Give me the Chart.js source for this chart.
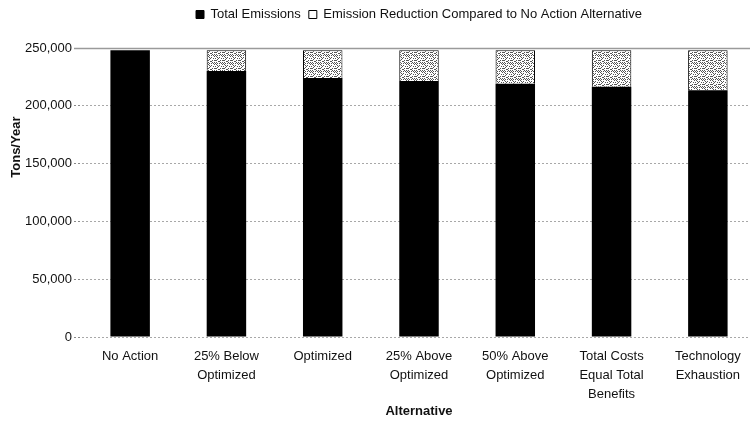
<!DOCTYPE html>
<html><head><meta charset="utf-8">
<script src="https://cdn.jsdelivr.net/npm/chart.js@4"></script>
<style>
html,body{margin:0;padding:0;background:#fff;overflow:hidden}
#wrap{width:750px;height:427px;overflow:hidden;position:relative}
canvas{display:block}
</style></head>
<body><div id="wrap"><canvas id="c" width="756" height="427"></canvas></div>
<script>
const categories = [['No Action'],['25% Below','Optimized'],['Optimized'],['25% Above','Optimized'],['50% Above','Optimized'],['Total Costs','Equal Total','Benefits'],['Technology','Exhaustion']];
const totalEmissions = [248000,230000,224000,221500,219000,216500,213500];
const emissionReduction = [0,18000,24000,26500,29000,31500,34500];
const seriesNames = ['Total Emissions','Emission Reduction Compared to No Action Alternative'];
const yMin = 0, yMax = 250000, yStep = 50000;
const xTitle = 'Alternative';
const yTitle = 'Tons/Year';

const FONT = '"Liberation Sans", Arial, sans-serif';

// stipple pattern for the reduction segment
function makePattern(){
  const p = document.createElement('canvas');
  p.width = 8; p.height = 8;
  const g = p.getContext('2d');
  g.fillStyle = '#fff'; g.fillRect(0,0,8,8);
  g.fillStyle = '#555';
  const dots = [[0,0],[3,1],[6,0],[1,3],[5,2],[7,4],[2,5],[4,4],[0,6],[6,6],[3,7],[5,7],[1,1],[7,2],[4,6],[2,2],[6,4],[0,4],[3,5],[7,7],[1,7]];
  dots.forEach(d=>g.fillRect(d[0],d[1],1,1));
  return g.createPattern(p,'repeat');
}
const ctx = document.getElementById('c').getContext('2d');
const stipple = makePattern();

const helpers = {
  id:'helpers',
  afterLayout(chart){
    const l = chart.legend, a = chart.chartArea;
    if (l){ l.left = a.left; l.right = a.right; l.top -= 17; l.bottom -= 17; }
  },
  afterDatasetsDraw(chart){
    const y = chart.scales.y, a = chart.chartArea, c = chart.ctx;
    c.save();
    c.strokeStyle = '#9a9a9a'; c.lineWidth = 1.5; c.setLineDash([]);
    const py = Math.round(y.getPixelForValue(yMax)) + 0.5;
    c.beginPath(); c.moveTo(a.left - 8, py); c.lineTo(a.right, py); c.stroke();
    c.restore();
  },
  afterDraw(chart){
    const a = chart.chartArea, c = chart.ctx;
    c.save();
    c.font = 'bold 13px ' + FONT;
    c.fillStyle = '#111';
    c.textAlign = 'center'; c.textBaseline = 'middle';
    c.translate(a.left - 66, a.top + (a.bottom - a.top) * 0.343);
    c.rotate(-Math.PI/2);
    c.fillText(yTitle, 0, 0);
    c.restore();
  }
};

new Chart(ctx, {
  type:'bar',
  data:{
    labels: categories,
    datasets:[
      {label:seriesNames[0], data:totalEmissions, backgroundColor:'#000', borderColor:'#000', borderWidth:0, barPercentage:0.41, categoryPercentage:1},
      {label:seriesNames[1], data:emissionReduction, backgroundColor:stipple, borderColor:'#000', borderWidth:1, borderSkipped:'bottom', barPercentage:0.41, categoryPercentage:1}
    ]
  },
  options:{
    responsive:false, animation:false, devicePixelRatio:1,
    layout:{padding:{top:17,left:0,right:0,bottom:0}},
    plugins:{
      tooltip:{enabled:false},
      legend:{
        position:'top',
        labels:{
          font:{family:FONT,size:13}, color:'#111', boxWidth:8, boxHeight:8, padding:8,
          generateLabels(chart){
            const items = Chart.defaults.plugins.legend.labels.generateLabels(chart);
            items.forEach((it,i)=>{ it.strokeStyle='#000'; it.lineWidth=1; it.fillStyle = i===0 ? '#000' : '#fff'; });
            return items;
          }
        }
      }
    },
    scales:{
      x:{
        stacked:true,
        grid:{display:false, drawTicks:false},
        border:{display:false},
        ticks:{font:{family:FONT,size:13,lineHeight:1.45}, color:'#111', padding:10, maxRotation:0, autoSkip:false},
        title:{display:true, text:xTitle, font:{family:FONT,size:13,weight:'bold'}, color:'#111', padding:{top:0,bottom:8}},
        afterFit(s){ s.height = 90; }
      },
      y:{
        stacked:true, min:yMin, max:yMax,
        ticks:{stepSize:yStep, font:{family:FONT,size:13}, color:'#111', padding:2},
        grid:{color:'#a8a8a8', lineWidth:1, tickLength:8, tickColor:'#888', tickBorderDash:[2,2]},
        border:{display:false, dash:[2,2]},
        title:{display:false},
        afterFit(s){ s.width = 82; }
      }
    }
  },
  plugins:[helpers]
});
</script>
</body></html>
